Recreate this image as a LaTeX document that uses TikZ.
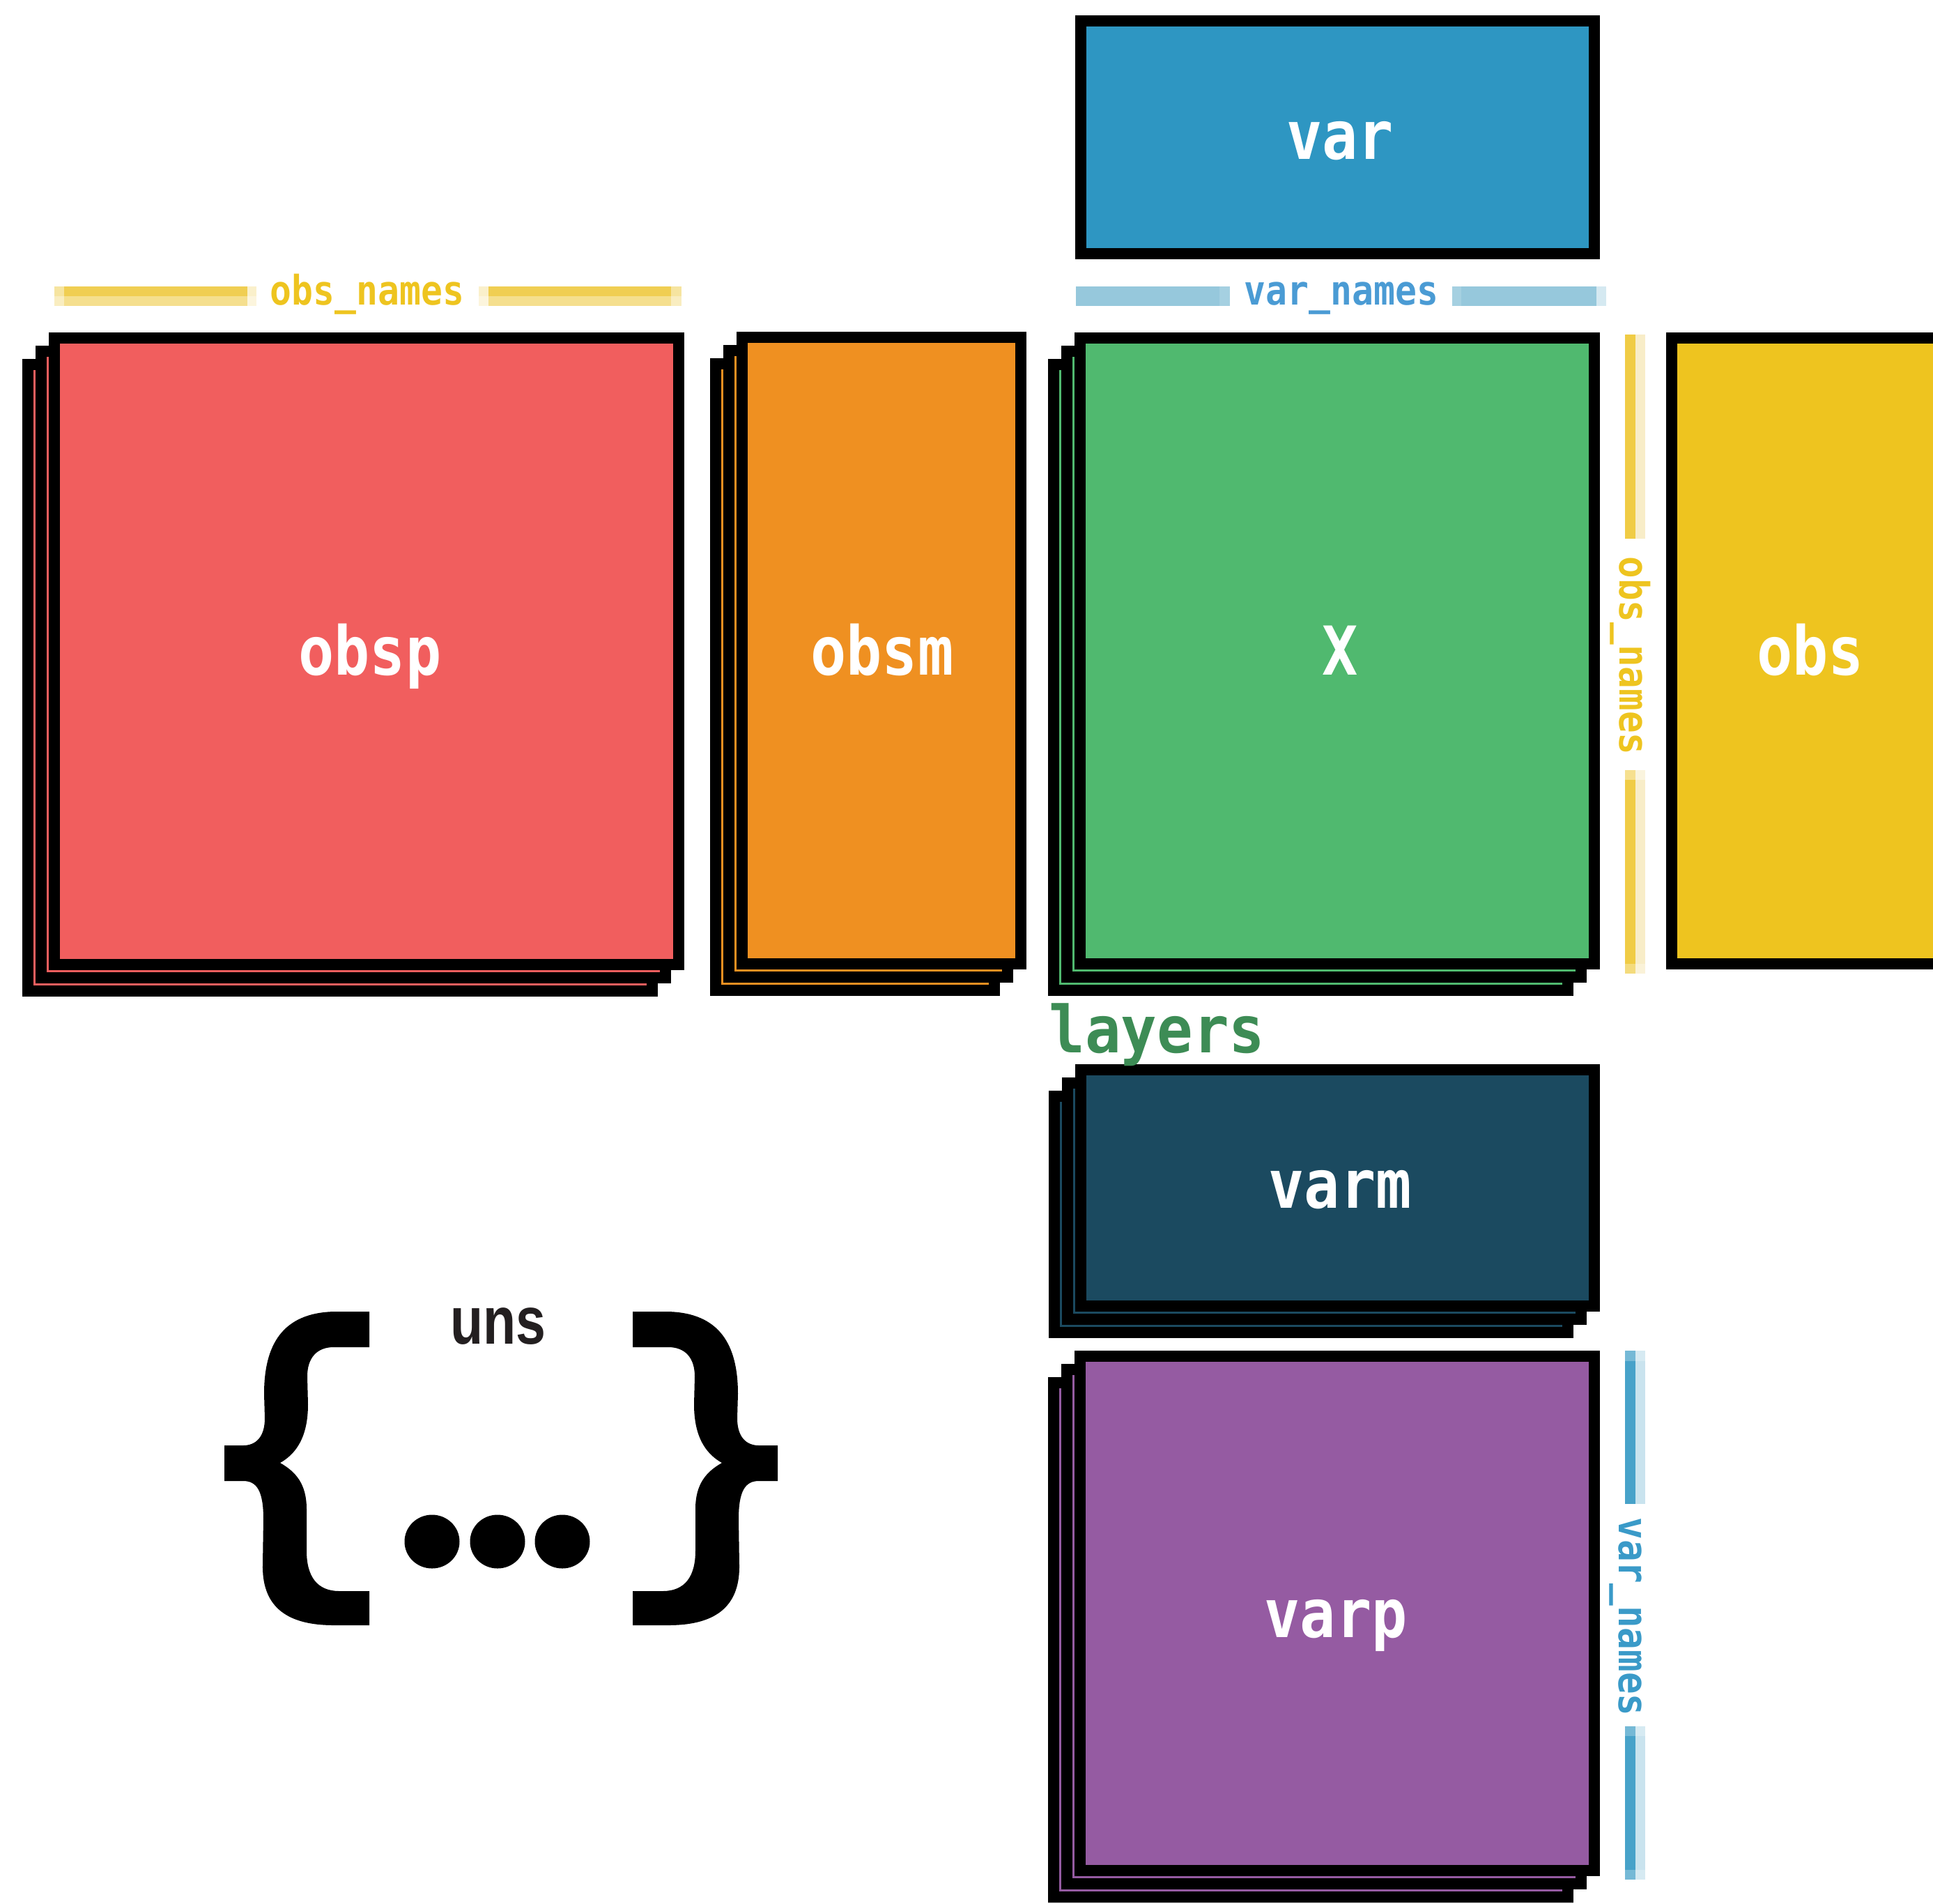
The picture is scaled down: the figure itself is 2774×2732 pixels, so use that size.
\documentclass[tikz,border=0pt]{standalone}
\usepackage{fontspec}
\usepackage{graphicx}
\newfontfamily\labfont{DejaVu Sans Mono}
\newfontfamily\unsfont{Liberation Sans}
\definecolor{cobsp}{HTML}{F15E5E}
\definecolor{cobsm}{HTML}{EF9021}
\definecolor{cX}{HTML}{50B96F}
\definecolor{cobs}{HTML}{EEC41F}
\definecolor{cvar}{HTML}{2E96C2}
\definecolor{cvarm}{HTML}{1B4A60}
\definecolor{cvarp}{HTML}{955BA2}
\definecolor{clayers}{HTML}{3D8C55}
\definecolor{cobstxt}{HTML}{EEC41F}
\definecolor{cvartxt}{HTML}{4A9BD4}
\definecolor{cvarvtxt}{HTML}{3A9AC8}
\definecolor{obsbarA}{HTML}{F0CE52}
\definecolor{obsbarB}{HTML}{F5DF8E}
\definecolor{obsvA}{HTML}{F0CC45}
\definecolor{obsvB}{HTML}{F8EDC8}
\definecolor{varbarA}{HTML}{96C8DC}
\definecolor{varbarB}{HTML}{96C8DC}
\definecolor{varvA}{HTML}{47A2C9}
\definecolor{varvB}{HTML}{C9E3EE}
\definecolor{unstxt}{HTML}{231F20}
\newcommand\stackof[5]{%
  \foreach \k in {2,1,0}{%
    \filldraw[boxst,fill=#1] ({#2+8-19*\k},{#3+8+19*\k}) rectangle ({#4-8-19*\k},{#5-8+19*\k});
  }%
}
\newcommand\mkhseg[4]{% x1 x2 colA colB
  \fill[#3] (#1,411) rectangle (#2,425);
  \fill[#4] (#1,425) rectangle (#2,439);
}
\newcommand\mkvseg[4]{% y1 y2 colA colB
  \fill[#3] (2332,#1) rectangle (2347,#2);
  \fill[#4] (2347,#1) rectangle (2361,#2);
}
\newcommand\bracepath{%
  (530,1882) -- (479,1882) .. controls (405,1884) and (379,1930) .. (379,2000)
  -- (380,2035) .. controls (380,2062) and (367,2074) .. (349,2074)
  -- (322,2074) -- (322,2125) -- (349,2125)
  .. controls (369,2125) and (378,2140) .. (378,2180)
  -- (377,2245) .. controls (376,2300) and (405,2332) .. (479,2332)
  -- (530,2332) -- (530,2283) -- (487,2283)
  .. controls (455,2283) and (440,2262) .. (440,2225)
  -- (440,2165) .. controls (440,2130) and (425,2112) .. (402,2099)
  .. controls (425,2086) and (442,2062) .. (442,2015)
  -- (441,1975) .. controls (441,1948) and (455,1933) .. (479,1933)
  -- (530,1933) -- cycle}
\begin{document}
\begin{tikzpicture}[x=0.01cm,y=-0.01cm,
  boxst/.style={draw=black,line width=0.16cm},
  biglab/.style={text=white,inner sep=0pt,anchor=base,
    font=\labfont\bfseries\fontsize{27.5}{30}\selectfont},
  smalllab/.style={inner sep=0pt,anchor=base,
    font=\labfont\bfseries\fontsize{16.6}{18}\selectfont},
  capw/.style={white,opacity=0.45},
]
\useasboundingbox (0,0) rectangle (2774,2732);
\begin{scope}
\clip (0,0) rectangle (2774,2732);

% --- name bars
\mkhseg{78}{368}{obsbarA}{obsbarB}
\fill[capw] (78,411) rectangle (92,439);
\fill[capw,opacity=0.7] (355,411) rectangle (368,439);
\mkhseg{687}{978}{obsbarA}{obsbarB}
\fill[capw,opacity=0.7] (687,411) rectangle (701,439);
\fill[capw] (963,411) rectangle (978,439);
\mkhseg{1544}{1765}{varbarA}{varbarB}
\fill[capw,opacity=0.15] (1750,411) rectangle (1765,439);
\mkhseg{2084}{2305}{varbarA}{varbarB}
\fill[capw,opacity=0.15] (2084,411) rectangle (2097,439);
\fill[capw,opacity=0.6] (2291,411) rectangle (2305,439);
\mkvseg{480}{773}{obsvA}{obsvB}
\mkvseg{1105}{1397}{obsvA}{obsvB}
\fill[capw,opacity=0.4] (2332,1105) rectangle (2361,1119);
\fill[capw,opacity=0.3] (2332,1383) rectangle (2361,1397);
\mkvseg{1938}{2158}{varvA}{varvB}
\fill[capw,opacity=0.25] (2332,1938) rectangle (2361,1953);
\mkvseg{2477}{2697}{varvA}{varvB}
\fill[capw,opacity=0.25] (2332,2477) rectangle (2361,2491);
\fill[capw,opacity=0.25] (2332,2683) rectangle (2361,2697);

\node[smalllab,text=cobstxt] (obsnamesh) at (527,437) {\scalebox{0.88}[1]{obs\_names}};
\node[smalllab,text=cvartxt] (varnamesh) at (1925,437) {\scalebox{0.88}[1]{var\_names}};
\node[smalllab,text=cobstxt,rotate=-90] (obsnamesv) at (2324,941) {\scalebox{0.9}[1]{obs\_names}};
\node[smalllab,text=cvarvtxt,rotate=-90] (varnamesv) at (2323,2320) {\scalebox{0.9}[1]{var\_names}};

% --- boxes
\filldraw[boxst,fill=cvar] (1551,30) rectangle (2288,364);
\stackof{cobsp}{70}{477}{982}{1392}
\stackof{cobsm}{1057}{476}{1473}{1391}
\stackof{cX}{1542}{477}{2296}{1391}
\filldraw[boxst,fill=cobs] (2399,485) rectangle (2900,1383);
\stackof{cvarm}{1543}{1527}{2296}{1882}
\stackof{cvarp}{1542}{1938}{2296}{2692}

% --- labels
\node[biglab] (var) at (1923,228) {\scalebox{0.88}[1]{var}};
\node[biglab] (obsp) at (531,968) {\scalebox{0.88}[1]{obsp}};
\node[biglab] (obsm) at (1266,968) {\scalebox{0.88}[1]{obsm}};
\node[biglab] (X) at (1923,968) {\scalebox{0.88}[1]{X}};
\node[biglab] (obs) at (2598,968) {\scalebox{0.88}[1]{obs}};
\node[biglab] (varm) at (1923,1733) {\scalebox{0.88}[1]{varm}};
\node[biglab] (varp) at (1917,2349) {\scalebox{0.88}[1]{varp}};

\node[inner sep=0pt,anchor=base west,text=clayers,
  font=\labfont\bfseries\fontsize{26.5}{30}\selectfont] (layers) at (1505,1510) {\scalebox{0.92}[1]{layers}};

% --- uns
\fill[black] \bracepath;
\begin{scope}[shift={(1438,0)},xscale=-1]
\fill[black] \bracepath;
\end{scope}
\node[inner sep=0pt,anchor=base,text=unstxt,
  font=\unsfont\bfseries\fontsize{27.4}{30}\selectfont] (uns) at (715,1928) {\scalebox{0.8}[1]{uns}};
\fill[black] (620,2212) ellipse [x radius=39.5, y radius=38.5];
\fill[black] (714,2212) ellipse [x radius=39.5, y radius=38.5];
\fill[black] (807,2212) ellipse [x radius=39.5, y radius=38.5];
\end{scope}
\end{tikzpicture}
\end{document}
